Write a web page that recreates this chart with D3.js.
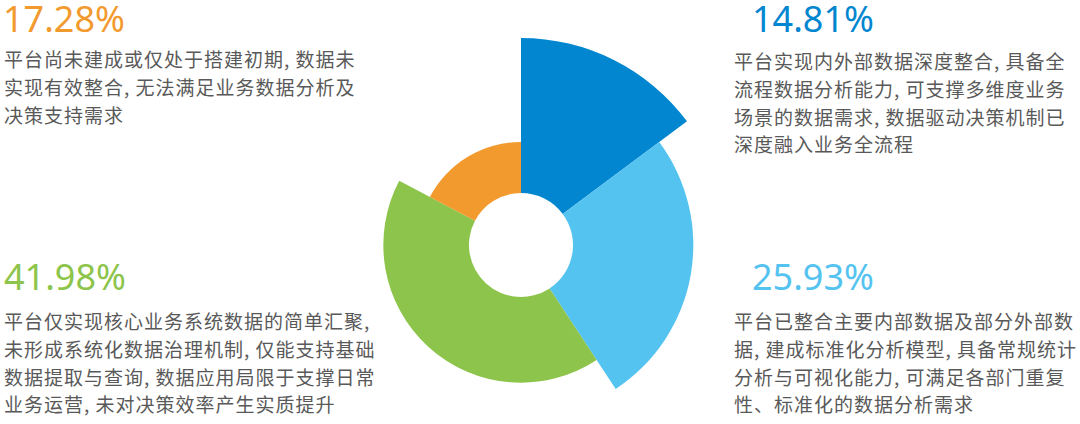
<html>
<head>
<meta charset="utf-8">
<script src="https://cdn.jsdelivr.net/npm/d3@7"></script>
<style>
  body { margin: 0; background: #fff; }
  svg { display: block; }
</style>
</head>
<body>
<script>
	// values of the four slices, clockwise from 12 o'clock
	var values = [14.81, 25.93, 41.98, 17.28];
	var labels = ["14.81%", "25.93%", "41.98%", "17.28%"];
	var colors = ["#0286d0", "#55c3f0", "#8dc44b", "#f29a2e"];
	var descriptions = [
		["平台实现内外部数据深度整合, 具备全", "流程数据分析能力, 可支撑多维度业务", "场景的数据需求, 数据驱动决策机制已", "深度融入业务全流程"],
		["平台已整合主要内部数据及部分外部数", "据, 建成标准化分析模型, 具备常规统计", "分析与可视化能力, 可满足各部门重复", "性、标准化的数据分析需求"],
		["平台仅实现核心业务系统数据的简单汇聚,", "未形成系统化数据治理机制, 仅能支持基础", "数据提取与查询, 数据应用局限于支撑日常", "业务运营, 未对决策效率产生实质提升"],
		["平台尚未建成或仅处于搭建初期, 数据未", "实现有效整合, 无法满足业务数据分析及", "决策支持需求"]
	];

	var width = 1080, height = 424;
	var cx = 521, cy = 245;

	var svg = d3.select("body").append("svg")
				.attr("width", width)
				.attr("height", height);

	var pie = d3.pie().sort(null).value(function(d){ return d; });

	// outer radius steps down slice by slice
	var rScale = d3.scaleLinear().domain([0, values.length - 1]).range([207, 103]);

	var arc = d3.arc()
				.innerRadius(52)
				.outerRadius(function(d){ return rScale(d.index); });

	svg.append("g")
	   .attr("transform", "translate(" + cx + "," + cy + ")")
	   .selectAll("path")
	   .data(pie(values))
	   .enter()
	   .append("path")
	   .attr("d", arc)
	   .attr("fill", function(d,i){ return colors[i]; });

	// text blocks: [percent x, percent baseline, text x, first line baseline]
	var blocks = [
		[752, 32, 734, 69],
		[752, 290, 734, 329],
		[4, 290, 4, 329],
		[3, 32, 4, 67]
	];

	var g = svg.selectAll("g.lab")
			   .data(values)
			   .enter()
			   .append("g")
			   .attr("class", "lab");

	g.append("text")
	 .attr("x", function(d,i){ return blocks[i][0]; })
	 .attr("y", function(d,i){ return blocks[i][1]; })
	 .attr("font-family", "'Noto Sans', 'Open Sans', sans-serif")
	 .attr("font-size", 36)
	 .attr("fill", function(d,i){ return colors[i]; })
	 .text(function(d,i){ return labels[i]; });

	g.each(function(d,i){
		d3.select(this).selectAll("text.desc")
		  .data(descriptions[i])
		  .enter()
		  .append("text")
		  .attr("class", "desc")
		  .attr("x", blocks[i][2])
		  .attr("y", function(t,j){ return blocks[i][3] + j * 27.8; })
		  .attr("font-family", "'Noto Sans CJK SC', sans-serif")
		  .attr("font-size", 19)
		  .attr("letter-spacing", 1)
		  .attr("fill", "#595959")
		  .text(function(t){ return t; });
	});
</script>
</body>
</html>
